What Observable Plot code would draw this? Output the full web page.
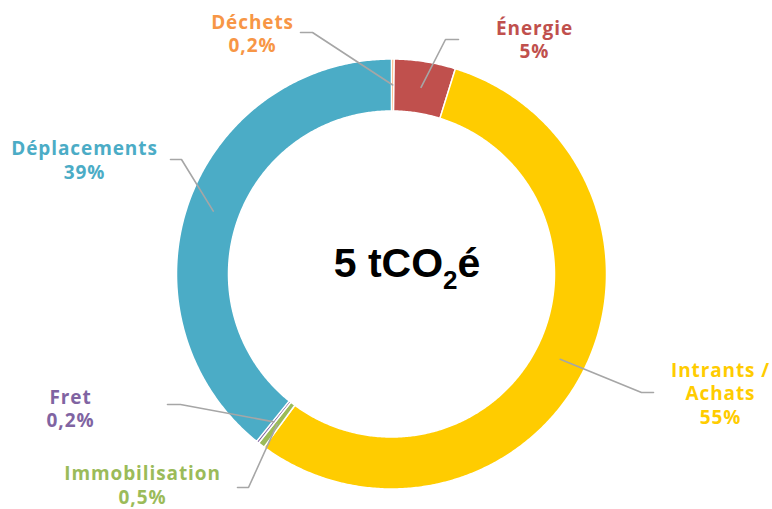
<!DOCTYPE html>
<html><head><meta charset="utf-8">
<script src="https://cdn.jsdelivr.net/npm/d3@7"></script>
<script src="https://cdn.jsdelivr.net/npm/@observablehq/plot@0.6"></script>
<style>
body{margin:0;background:#fff}
.lbl text{letter-spacing:0.9px}
</style>
</head><body><div id="chart"></div>
<script>
// ---- data ----
const categories = ["Déchets", "Énergie", "Intrants / Achats", "Immobilisation", "Fret", "Déplacements"];
const shares = [0.2, 4.6, 55.3, 0.5, 0.2, 39.2];
const shareLabels = ["0,2%", "5%", "55%", "0,5%", "0,2%", "39%"];
const labelNames = ["Déchets", "Énergie", "Intrants /\nAchats", "Immobilisation", "Fret", "Déplacements"];
const totalParts = ["5 tCO", "2", "é"];

// ---- styles / layout ----
const colors = ["#f79646", "#c0504d", "#ffcc00", "#9bbb59", "#8064a2", "#4bacc6"];
const W = 772, H = 509, cx = 391, cy = 273.5, rOuter = 215, rInner = 163, rLeader = 189;
// label centre (lx,ly), leader elbow (bx,by) and leader end (ex,ey), in pixels
const labelLayout = [
  {lx: 252, ly: 32.6, bx: 312, by: 32, ex: 300, ey: 32},
  {lx: 534, ly: 38.6, bx: 445, by: 39, ex: 458, ey: 39},
  {lx: 720, ly: 392.4, bx: 641, by: 392, ex: 653, ey: 392},
  {lx: 142, ly: 484, bx: 248, by: 487, ex: 237, ey: 487},
  {lx: 70, ly: 407.3, bx: 180, by: 404, ex: 167, ey: 404},
  {lx: 84, ly: 159, bx: 181, by: 159, ex: 170, ey: 159}
];
const totalPos = {x: 406.5, y: cy};

// ---- geometry from data ----
const arcs = d3.pie().sort(null).value(d => d).startAngle(0).endAngle(2 * Math.PI)(shares);
const px = (r, a) => cx + r * Math.sin(a);
const py = (r, a) => cy - r * Math.cos(a);

const slicePts = [];
arcs.forEach((a, i) => {
  const n = Math.max(2, Math.ceil((a.endAngle - a.startAngle) / (Math.PI / 360)));
  const outer = [], inner = [];
  for (let k = 0; k <= n; k++) {
    const t = a.startAngle + (a.endAngle - a.startAngle) * k / n;
    outer.push({cat: categories[i], x: px(rOuter, t), y: py(rOuter, t)});
    inner.push({cat: categories[i], x: px(rInner, t), y: py(rInner, t)});
  }
  slicePts.push(...outer, ...inner.reverse());
});

const leaderPts = [];
arcs.forEach((a, i) => {
  const mid = (a.startAngle + a.endAngle) / 2;
  const L = labelLayout[i];
  leaderPts.push({cat: categories[i], x: px(rLeader, mid), y: py(rLeader, mid)});
  leaderPts.push({cat: categories[i], x: L.bx, y: L.by});
  leaderPts.push({cat: categories[i], x: L.ex, y: L.ey});
});

const labels = categories.map((c, i) => ({
  cat: c, x: labelLayout[i].lx, y: labelLayout[i].ly,
  text: labelNames[i] + "\n" + shareLabels[i]
}));

const plot = Plot.plot({
  width: W, height: H, margin: 0,
  x: {axis: null, domain: [0, W], range: [0, W]},
  y: {axis: null, domain: [0, H], range: [0, H]},
  color: {domain: categories, range: colors},
  marks: [
    Plot.line(slicePts, {x: "x", y: "y", z: "cat", fill: "cat", stroke: "white", strokeWidth: 1.5, curve: "linear-closed"}),
    Plot.line(leaderPts, {x: "x", y: "y", z: "cat", stroke: "#a6a6a6", strokeWidth: 1.6}),
    Plot.text(labels, {x: "x", y: "y", text: "text", fill: "cat", fontSize: 19, fontWeight: "bold",
      fontFamily: "Open Sans", lineHeight: 23.5 / 19, lineAnchor: "middle", textAnchor: "middle"}),
    Plot.text([totalPos], {x: "x", y: "y", text: () => totalParts[0], fill: "black", fontSize: 41,
      fontWeight: "bold", fontFamily: "Liberation Sans, Arial, sans-serif", textAnchor: "middle", dy: -10})
  ]
});

// label class for letter-spacing
plot.querySelectorAll("g[aria-label='text']").forEach((g, i) => { if (i === 0) g.setAttribute("class", "lbl"); });

// subscript in the total
const t = [...plot.querySelectorAll("text")].find(n => n.textContent === totalParts[0]);
if (t) {
  t.textContent = "";
  const ns = "http://www.w3.org/2000/svg";
  const mk = (s, attrs) => {
    const ts = document.createElementNS(ns, "tspan");
    ts.textContent = s;
    for (const k in attrs) ts.setAttribute(k, attrs[k]);
    t.appendChild(ts);
  };
  mk(totalParts[0], {});
  mk(totalParts[1], {"font-size": 26, dy: 12});
  mk(totalParts[2], {dy: -12});
}
document.getElementById("chart").appendChild(plot);
</script>
</body></html>
